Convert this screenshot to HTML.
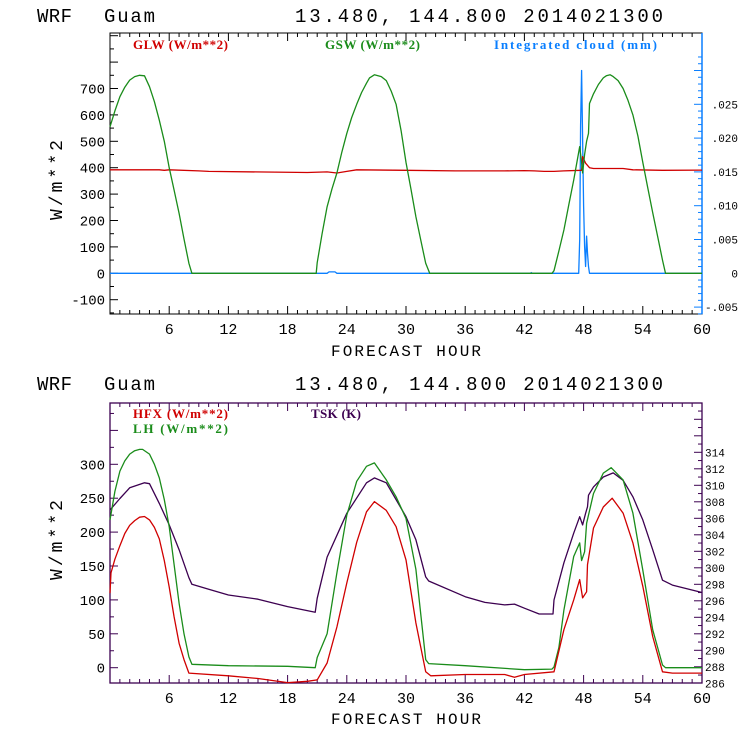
<!DOCTYPE html>
<html><head><meta charset="utf-8"><style>
body{margin:0;background:#fff}
</style></head><body>
<svg id="c" width="740" height="740" xmlns="http://www.w3.org/2000/svg" font-family="Liberation Mono, monospace"></svg>
<script>
// ---- Top panel data ----
const gswHours=[0,0.5,1,1.5,2,2.5,3,3.5,4,4.5,5,5.5,6,6.5,7,7.5,8,8.3,20.9,21,21.5,22,22.5,23,23.5,24,24.5,25,25.5,26,26.3,26.8,27.5,28,28.5,29,29.5,30,30.5,31,31.5,32,32.4,44.8,45,45.5,46,46.5,47,47.6,47.8,47.9,48.1,48.3,48.5,48.6,49,49.5,50,50.3,50.7,51,51.5,52,52.5,53,53.5,54,54.5,55,55.5,56,56.3,60];
const gswVals=[555,615,669,705,732,745,750,748,707,650,580,500,400,315,227,130,38,0,0,40,150,252,320,380,460,530,590,640,685,720,740,752,745,730,690,640,540,420,320,214,125,38,0,0,10,85,164,260,353,480,420,380,450,500,530,643,680,715,740,748,752,745,730,700,655,600,520,420,325,230,140,50,0,0];
const glwHours=[0,5,5.5,6,9,10,20,22,23,24,25,30,35,40,42,43,44,45,46,47.8,47.9,48.2,48.6,49,52,53,56,60];
const glwVals=[392,392,390,392,388,386,382,384,380,386,392,390,388,388,389,388,386,386,388,390,442,417,400,397,397,392,390,391];
const cldHours=[0,22,22.2,22.8,23,42.6,42.7,42.8,47.5,47.6,47.7,47.8,47.9,48.0,48.1,48.2,48.3,48.4,48.5,48.6,60];
const cldVals=[0,0,0.0002,0.0002,0,0,0.0001,0,0,0.005,0.022,0.030,0.020,0.010,0.004,0.001,0.0055,0.003,0.001,0,0];
const topYTicks=[-100,0,100,200,300,400,500,600,700];
const cldTicks=[-0.005,0,0.005,0.010,0.015,0.020,0.025];
const cldTickLabels=["-.005","0",".005",".010",".015",".020",".025"];
// ---- Bottom panel data ----
const lhHours=[0,0.5,1,1.5,2,2.5,3,3.3,4,4.5,5,5.5,6,6.5,7,7.5,8,8.3,12,18,20.8,21,22,23,24,25,26,26.8,28,29,30,31,32,32.3,36,42,44.8,45,45.5,46,47,47.6,47.8,48.1,48.3,49,50,50.8,52,53,54,55,56,56.3,60];
const lhVals=[218,260,290,305,315,320,322,322,315,300,280,248,208,152,95,50,16,5,3,2,0,15,50,140,225,275,297,302,277,252,220,145,12,6,3,-3,-2,1,30,85,164,184,158,171,213,257,287,295,277,228,144,56,4,0,0];
const hfxHours=[0,0.1,0.5,1,1.5,2,2.5,3,3.5,4,4.5,5,5.5,6,6.5,7,7.5,8,12,15,18,20,21,22,23,24,25,26,26.8,28,29,30,31,32,32.5,36,40,41,42,45,46,47,47.6,47.9,48.3,48.4,49,50,50.9,52,53,54,55,56,57,60];
const hfxVals=[110,140,160,180,198,210,217,222,223,218,207,190,158,119,75,36,12,-8,-12,-16,-22,-20,-18,7,60,125,185,230,245,232,208,159,66,-6,-12,-10,-10,-14,-10,-6,56,100,130,103,112,152,206,237,250,228,184,120,46,-6,-8,-8];
const tskHours=[0,1,2,3.5,4,5,6,7,8,8.3,10,12,15,18,20.8,21,22,24,26,26.8,28,30,31,32,32.3,36,38,40,41,42,43.5,44.9,45,46,47,47.6,47.9,48.2,48.4,48.5,49,50,51,52,53,54,55,56,57,60];
const tskVals=[307.0,308.4,309.7,310.3,310.2,307.8,305.2,302.2,298.8,298.0,297.4,296.7,296.2,295.3,294.6,296.3,301.3,306.6,310.3,310.9,310.3,306.2,303.4,298.9,298.4,296.5,295.8,295.5,295.6,295.1,294.4,294.4,296.1,300.6,304.2,306.2,305.2,306.6,307.4,308.8,309.8,311.0,311.5,310.6,308.6,305.8,302.2,298.5,297.9,297.0];
const botYTicks=[0,50,100,150,200,250,300];
const tskTicks=[286,288,290,292,294,296,298,300,302,304,306,308,310,312,314];
const xTicks=[6,12,18,24,30,36,42,48,54,60];

const NS="http://www.w3.org/2000/svg";
const svg=document.getElementById('c');
function mk(tag,attrs,parent){const e=document.createElementNS(NS,tag);for(const k in attrs)e.setAttribute(k,attrs[k]);(parent||svg).appendChild(e);return e;}
function txt(s,x,y,attrs){const e=mk('text',Object.assign({x:x,y:y},attrs));e.textContent=s;return e;}

const L=110,R=702;
const xs=h=>L+h*(R-L)/60;
const T1=33,B1=314;
const yTop=v=>273.3-v*0.264;
const yCld=v=>273.3-v/0.005*33.8;
const T2=403,B2=683;
const yBot=v=>667.7-v*0.678;
const yTsk=v=>683.3-(v-286)*8.25;

function poly(hs,vs,fy,color,name){
  const p=hs.map((h,i)=>xs(h).toFixed(1)+','+fy(vs[i]).toFixed(1)).join(' ');
  const e=mk('polyline',{points:p,fill:'none',stroke:color,'stroke-width':1.3,'stroke-linejoin':'round'});
  
  
  return e;
}

function titles(y){
  const a=txt('WRF',37,y,{'font-size':19,fill:'#000',textLength:35,lengthAdjust:'spacing'});
  
  const g=txt('Guam',104,y,{'font-size':19,fill:'#000',textLength:51,lengthAdjust:'spacing'});
  
  const b=txt('13.480, 144.800  2014021300',295,y,{'font-size':19,fill:'#000',textLength:368,lengthAdjust:'spacing'});
  
}
function xaxis(T,B,col,ly){
  for(let h=1;h<60;h++){
    const len=h%6===0?8:4;
    mk('line',{x1:xs(h),x2:xs(h),y1:B,y2:B-len,stroke:col});
    mk('line',{x1:xs(h),x2:xs(h),y1:T,y2:T+len,stroke:col});
  }
  xTicks.forEach(h=>{const t=txt(String(h),xs(h),B+20,{'font-size':15,'text-anchor':'middle',fill:'#000'});
    });
  const f=txt('FORECAST HOUR',331,ly,{'font-size':16,fill:'#000',textLength:150,lengthAdjust:'spacing'});
  
}
function ytitle(cy){
  const t=txt('W/m**2',-40,0,{'font-size':18,fill:'#000',textLength:80,lengthAdjust:'spacing',transform:'translate(62,'+cy+') rotate(-90)'});
  
}

// ===== TOP PANEL =====
titles(22);
const f1=mk('rect',{x:L,y:T1,width:R-L,height:B1-T1,fill:'none',stroke:'#000'});

mk('line',{x1:R,x2:R,y1:T1,y2:B1,stroke:'#0a7fff','stroke-width':1.5});
xaxis(T1,B1,'#000',356);
for(let v=-150;v<=900;v+=50){const y=yTop(v);if(y<T1||y>B1)continue;mk('line',{x1:L,x2:L+(v%100===0?8:4),y1:y,y2:y,stroke:'#000'});}
topYTicks.forEach(v=>{const t=txt(String(v),L-5,yTop(v)+5,{'font-size':14,'text-anchor':'end',fill:'#000'});
  });
for(let k=-6;k<=32;k++){const v=k*0.001;const y=yCld(v);if(y<T1||y>B1)continue;mk('line',{x1:R,x2:R-(k%5===0?8:4),y1:y,y2:y,stroke:'#0a7fff'});}
cldTicks.forEach((v,i)=>{const t=txt(cldTickLabels[i],738,yCld(v)+4,{'font-size':11,'text-anchor':'end',fill:'#000'});
  });
ytitle(180);
[['GLW (W/m**2)',133,95,'#d00000','legend-glw'],['GSW (W/m**2)',325,95,'#1a8c1a','legend-gsw'],['Integrated cloud (mm)',494,163,'#0a7fff','legend-cloud']].forEach(a=>{
  const t=txt(a[0],a[1],49,{'font-size':13,fill:a[3],'font-family':'Liberation Serif, serif','font-weight':'bold',textLength:a[2],lengthAdjust:'spacing'});
  });
poly(cldHours,cldVals,yCld,'#0a7fff','cloud-line');
poly(glwHours,glwVals,yTop,'#d00000','glw-line');
poly(gswHours,gswVals,yTop,'#1a8c1a','gsw-line');

// ===== BOTTOM PANEL =====
titles(390);
const P='#3c0050';
const f2=mk('rect',{x:L,y:T2,width:R-L,height:B2-T2,fill:'none',stroke:P,'stroke-width':1.3});

xaxis(T2,B2,P,724);
for(let v=-25;v<=400;v+=25){const y=yBot(v);if(y<T2||y>B2)continue;mk('line',{x1:L,x2:L+(v%50===0?8:4),y1:y,y2:y,stroke:P});}
botYTicks.forEach(v=>{const t=txt(String(v),L-5,yBot(v)+5,{'font-size':14,'text-anchor':'end',fill:'#000'});
  });
for(let k=286;k<=320;k++){const y=yTsk(k);if(y<T2||y>B2)continue;mk('line',{x1:R,x2:R-(k%2===0?8:4),y1:y,y2:y,stroke:P});}
tskTicks.forEach(v=>{const t=txt(String(v),705,yTsk(v)+4,{'font-size':11,fill:'#000'});
  });
ytitle(540);
[['HFX (W/m**2)',133,418,95,'#d00000','legend-hfx'],['LH  (W/m**2)',133,433,95,'#1a8c1a','legend-lh'],['TSK (K)',311,418,50,P,'legend-tsk']].forEach(a=>{
  const t=txt(a[0],a[1],a[2],{'font-size':13,fill:a[4],'font-family':'Liberation Serif, serif','font-weight':'bold',textLength:a[3],lengthAdjust:'spacing'});
  });
poly(tskHours,tskVals,yTsk,P,'tsk-line');
poly(lhHours,lhVals,yBot,'#1a8c1a','lh-line');
poly(hfxHours,hfxVals,yBot,'#d00000','hfx-line');
</script>
</body></html>
